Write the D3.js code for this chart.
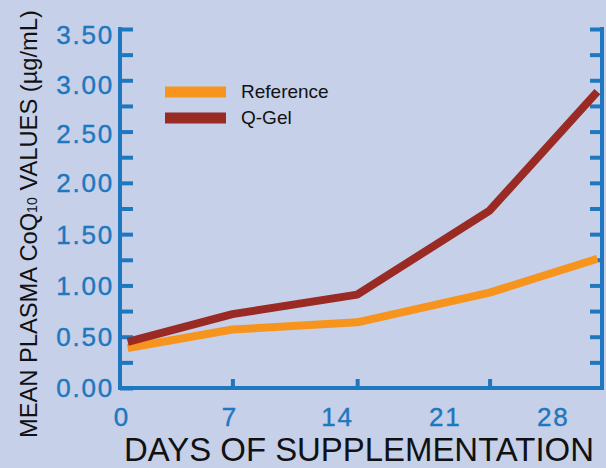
<!DOCTYPE html>
<html>
<head>
<meta charset="utf-8">
<script src="https://cdn.jsdelivr.net/npm/d3@7"></script>
<style>
  html, body { margin: 0; padding: 0; background: #c6d0e9; }
  svg { display: block; }
</style>
</head>
<body>
<svg id="chart" width="606" height="468"></svg>
<script>
// ---- data ----
const days = [0.5, 7.3, 15.4, 24, 31];
const referenceValues = [0.39, 0.57, 0.64, 0.93, 1.26];
const qgelValues = [0.45, 0.72, 0.91, 1.73, 2.89];
const xTickLabels = [0, 7, 14, 21, 28];
const yTickLabels = [0, 0.5, 1, 1.5, 2, 2.5, 3, 3.5];
const yMinorTicks = d3.range(0, 3.5001, 0.25);
const seriesNames = ["Reference", "Q-Gel"];
const seriesColors = ["#f7941e", "#9a2a24"];

const axisBlue = "#1f77c0";
const bg = "#c6d0e9";

const svg = d3.select("#chart");
svg.append("rect").attr("width", 606).attr("height", 468).attr("fill", bg);

const mLeft = 120, mRight = 602, mTop = 29, mBottom = 388;
const x = d3.scaleLinear().domain([0, 31.3]).range([mLeft, mRight]);
const y = d3.scaleLinear().domain([0, 3.5]).range([mBottom, mTop]);

// fit a text element's font-size so it spans a target width
function fitText(sel, target) {
  const fs = parseFloat(sel.attr("font-size"));
  const w = sel.node().getComputedTextLength();
  if (w > 0) sel.attr("font-size", fs * target / w);
}

// axes lines & ticks
const axG = svg.append("g");
function styleAxis(g) {
  g.select(".domain").remove();
  g.selectAll(".tick line").attr("stroke", axisBlue).attr("stroke-width", 4);
}
axG.append("g").attr("transform", `translate(${mLeft},0)`)
  .call(d3.axisRight(y).tickValues(yMinorTicks).tickSize(13).tickFormat(""))
  .call(styleAxis);
axG.append("g").attr("transform", `translate(${mRight},0)`)
  .call(d3.axisLeft(y).tickValues(yMinorTicks.filter(v => v > 0)).tickSize(12).tickFormat(""))
  .call(styleAxis);
axG.append("g").attr("transform", `translate(0,${mBottom})`)
  .call(d3.axisTop(x).tickValues(days.slice(1, 4)).tickSize(9).tickFormat(""))
  .call(styleAxis);

axG.append("path")
  .attr("d", `M${mLeft},${y(3.5) - 2}V${mBottom}H${mRight}V${y(3.5) - 2}`)
  .attr("fill", "none").attr("stroke", axisBlue).attr("stroke-width", 4)
  .attr("stroke-linejoin", "miter");

const labelFont = "'Liberation Sans', Arial, Helvetica, sans-serif";

// y tick labels
svg.append("g").selectAll("text").data(yTickLabels).join("text")
  .attr("x", 114).attr("y", d => y(d) + (d >= 2 ? (d - 2) * 4 : 0)).attr("dy", "0.36em")
  .attr("text-anchor", "end")
  .attr("font-family", labelFont).attr("font-size", 26)
  .attr("letter-spacing", "1.8px")
  .attr("stroke", axisBlue).attr("stroke-width", 0.4)
  .attr("fill", axisBlue)
  .text(d => d3.format(".2f")(d));

// x tick labels
svg.append("g").selectAll("text").data(xTickLabels).join("text")
  .attr("x", d => x(d) + 2).attr("y", 426)
  .attr("text-anchor", "middle")
  .attr("font-family", labelFont).attr("font-size", 26)
  .attr("letter-spacing", "1.8px")
  .attr("stroke", axisBlue).attr("stroke-width", 0.4)
  .attr("fill", axisBlue)
  .text(d => d);

// x title
const xt = svg.append("text")
  .attr("x", 124).attr("y", 461)
  .attr("font-family", labelFont).attr("font-size", 32)
  .attr("fill", "#111")
  .text("DAYS OF SUPPLEMENTATION");
fitText(xt, 470);

// y title
const yt = svg.append("text")
  .attr("transform", "translate(37,438) rotate(-90)")
  .attr("font-family", labelFont).attr("font-size", 26)
  .attr("fill", "#111");
yt.append("tspan").text("MEAN PLASMA CoQ");
yt.append("tspan").attr("font-size", "0.6em").text("10");
yt.append("tspan").text(" VALUES (µg/mL)");
fitText(yt, 428);

// lines
const line = d3.line().x((d, i) => x(days[i])).y(d => y(d));
[referenceValues, qgelValues].forEach((vals, k) => {
  svg.append("path")
    .attr("d", line(vals))
    .attr("fill", "none")
    .attr("stroke", seriesColors[k])
    .attr("stroke-width", 8)
    .attr("stroke-linejoin", "round");
});

// legend
const lg = svg.append("g");
seriesNames.forEach((name, k) => {
  const cy = 92 + k * 26;
  lg.append("line")
    .attr("x1", 165).attr("x2", 226).attr("y1", cy).attr("y2", cy)
    .attr("stroke", seriesColors[k]).attr("stroke-width", 11);
  lg.append("text")
    .attr("x", 241).attr("y", cy - 1).attr("dy", "0.35em")
    .attr("font-family", labelFont).attr("font-size", 19)
    .attr("fill", "#111")
    .text(name);
});
</script>
</body>
</html>
